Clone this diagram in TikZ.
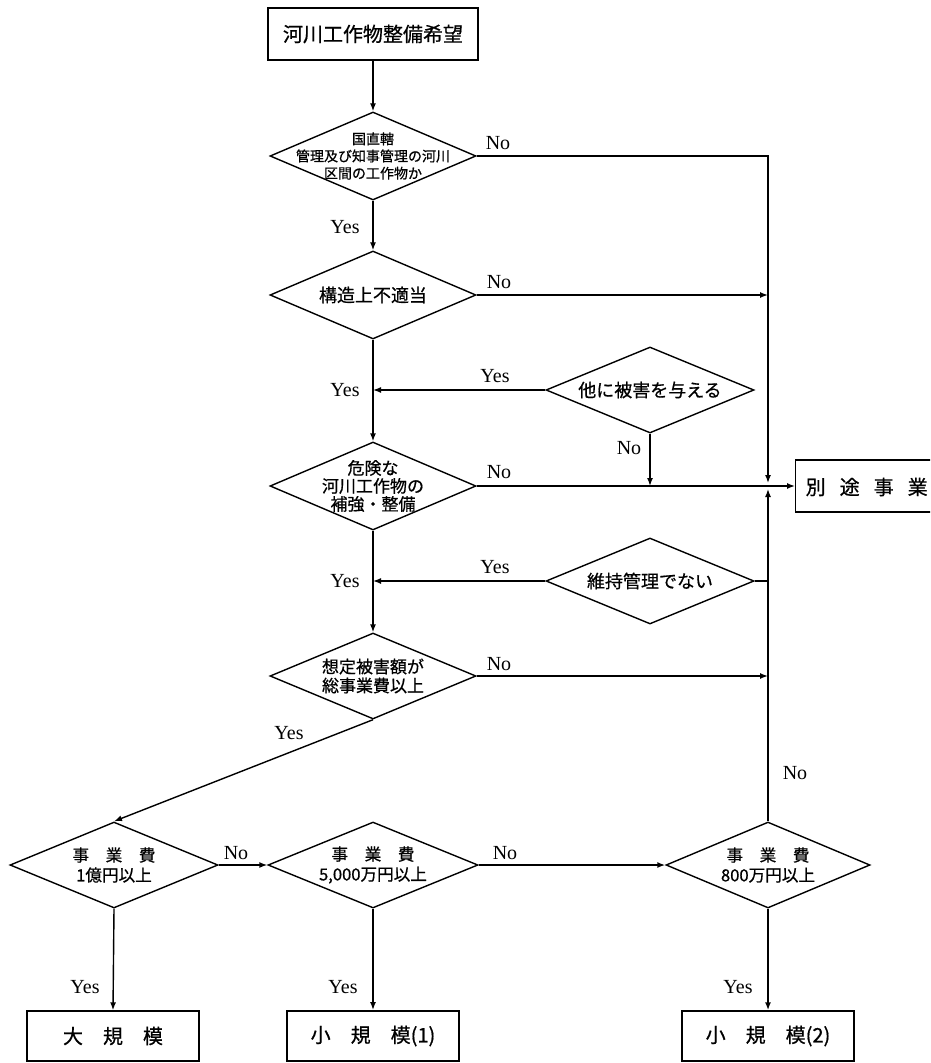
\documentclass[tikz,border=0pt]{standalone}
\usepackage{fontspec}
\setmainfont{Liberation Serif}
\newfontfamily\cjk[FakeBold=0.7]{Noto Sans CJK JP}
\usetikzlibrary{shapes.geometric,arrows.meta}
\begin{document}
\begin{tikzpicture}[x=0.5pt,y=-0.5pt,
  line width=0.7pt,
  arr/.style={-{Latex[length=4pt,width=3pt]}},
  box/.style={draw,rectangle,inner sep=0pt,minimum width=105pt,minimum height=26pt,font=\cjk\fontsize{10}{12}\selectfont},
  endbox/.style={draw,rectangle,inner sep=0pt,minimum width=86pt,minimum height=25pt},
  dia/.style={draw,diamond,inner sep=0pt,minimum width=103pt,minimum height=44pt},
  dtxt/.style={font=\cjk\fontsize{9}{10.5}\selectfont,align=center,inner sep=0pt},
  stxt/.style={font=\cjk\fontsize{7}{8.6}\selectfont,align=center,inner sep=0pt},
  btxt/.style={font=\cjk\fontsize{8.3}{10}\selectfont,align=center,inner sep=0pt},
  lab/.style={font=\fontsize{10}{12}\selectfont,inner sep=0pt}]
\useasboundingbox (0,0) rectangle (930,1063);
\clip (0,0) rectangle (930,1063);

% nodes
\node[box] (start) at (373,34) {河川工作物整備希望};
\node[dia,label={[stxt]center:{国直轄\\管理及び知事管理の河川\\区間の工作物か}}] (d1) at (373,156) {};
\node[dia,label={[dtxt]center:{構造上不適当}}] (d2) at (373,295) {};
\node[dia,minimum width=104pt,minimum height=43pt,label={[dtxt]center:{他に被害を与える}}] (dh) at (650,390) {};
\node[dia,label={[dtxt,font=\cjk\fontsize{8.5}{9}\selectfont]center:{危険な\\河川工作物の\\補強・整備}}] (d3) at (373,486) {};
\node[dia,minimum width=104pt,minimum height=43pt,label={[dtxt]center:{維持管理でない}}] (dm) at (650,581) {};
\node[dia,minimum height=43pt,label={[dtxt,font=\cjk\fontsize{8.5}{9.5}\selectfont]center:{想定被害額が\\総事業費以上}}] (d4) at (373,676) {};
\node[dia,minimum width=104pt,minimum height=43pt,label={[btxt]center:{事　業　費\\1億円以上}}] (e1) at (114,865) {};
\node[dia,minimum width=105pt,minimum height=43pt,label={[btxt]center:{事　業　費\\5,000万円以上}}] (e2) at (373,865) {};
\node[dia,minimum width=102pt,minimum height=43pt,label={[btxt]center:{事　業　費\\800万円以上}}] (e3) at (768,865) {};
\node[endbox,font=\cjk\fontsize{10}{12}\selectfont] (big) at (113,1036) {大　規　模};
\node[endbox,font=\cjk\fontsize{10}{12}\selectfont,line width=1pt] (s1) at (373,1036) {小　規　模(1)};
\node[endbox,font=\cjk\fontsize{10}{12}\selectfont] (s2) at (768,1036) {小　規　模(2)};
\node[draw,rectangle,inner sep=0pt,minimum width=76pt,minimum height=26pt,anchor=west] (bet) at (795,486) {};
\node[anchor=west,inner sep=0pt,font=\cjk\fontsize{10}{12}\selectfont] (bettxt) at (805,487) {別\hspace{7pt}途\hspace{7pt}事\hspace{7pt}業};
\coordinate (J) at (768,486);

% connectors
\draw[arr] (start) -- (d1);
\draw[arr] (d1) -- (d2);
\draw[arr,shorten >=1.5pt] (d1.east) -| (J);
\draw[arr] (d2.east) -- (d2.east -| J);
\draw[arr] (d2) -- (d3);
\draw[arr] (dh.west) -- (dh.west -| d2.south);
\draw[arr] (dh.south) -- (dh.south |- d3.east);
\draw[arr] (d3.east) -- (bet.west);
\draw[arr] (d3) -- (d4);
\draw[arr] (dm.west) -- (dm.west -| d3.south);
\draw (dm.east) -- (dm.east -| J);
\draw[arr] (d4.east) -- (d4.east -| J);
\draw[arr] (d4.south) -- (e1.north);
\draw[arr] (e1.east) -- (e2.west);
\draw[arr,line width=1.1pt] (e2.east) -- (e3.west);
\draw[arr,shorten >=1.5pt] (e3.north) -- (J);
\draw[arr] (e1.south) -- (big.north);
\draw[arr] (e2.south) -- (s1.north);
\draw[arr,line width=0.9pt] (e3.south) -- (s2.north);

% labels
\node[lab] (l1) at (498,143) {No};
\node[lab] (l2) at (345,227) {Yes};
\node[lab] (l3) at (499,282) {No};
\node[lab] (l4) at (495,376) {Yes};
\node[lab] (l5) at (345,390) {Yes};
\node[lab] (l6) at (629,448) {No};
\node[lab] (l7) at (499,472) {No};
\node[lab] (l8) at (495,567) {Yes};
\node[lab] (l9) at (345,581) {Yes};
\node[lab] (l10) at (499,664) {No};
\node[lab] (l11) at (289,733) {Yes};
\node[lab] (l12) at (236,853) {No};
\node[lab] (l13) at (505,853) {No};
\node[lab] (l14) at (795,773) {No};
\node[lab] (l15) at (85,987) {Yes};
\node[lab] (l16) at (343,987) {Yes};
\node[lab] (l17) at (738,987) {Yes};
\end{tikzpicture}
\end{document}
